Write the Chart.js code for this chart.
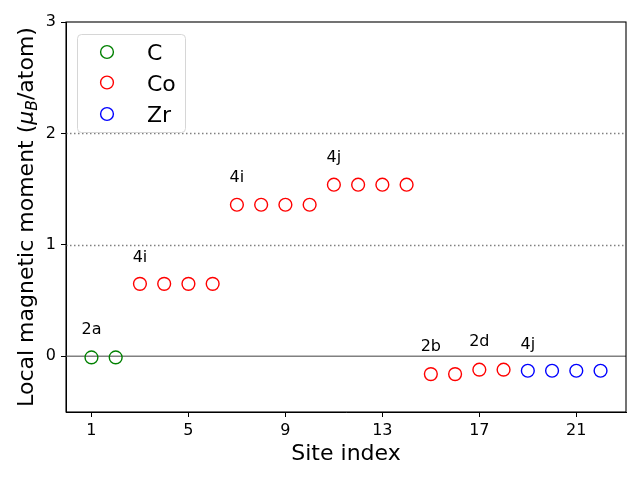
<!DOCTYPE html>
<html>
<head>
<meta charset="utf-8">
<script src="https://cdn.jsdelivr.net/npm/chart.js@4/dist/chart.umd.min.js"></script>
<style>
  html, body { margin: 0; padding: 0; background: #ffffff; }
  canvas { display: block; }
</style>
</head>
<body>
<canvas id="c" width="640" height="480"></canvas>
<script>
// ---- data ----
const sitesC = [1, 2];
const momentsC = [-0.01, -0.01];
const sitesCo = [3, 4, 5, 6, 7, 8, 9, 10, 11, 12, 13, 14, 15, 16, 17, 18];
const momentsCo = [0.65, 0.65, 0.65, 0.65, 1.36, 1.36, 1.36, 1.36, 1.54, 1.54, 1.54, 1.54, -0.16, -0.16, -0.12, -0.12];
const sitesZr = [19, 20, 21, 22];
const momentsZr = [-0.13, -0.13, -0.13, -0.13];

const wyckoffLabels = ['2a', '4i', '4i', '4j', '2b', '2d', '4j'];
const wyckoffX = [1, 3, 7, 11, 15, 17, 19];
const wyckoffY = [0.25, 0.90, 1.62, 1.80, 0.10, 0.15, 0.12];

const xTicks = [1, 5, 9, 13, 17, 21];
const yTicks = [0, 1, 2, 3];
const dottedLevels = [1, 2];
const solidLevels = [0];

const FONT = "'DejaVu Sans', 'Liberation Sans', sans-serif";

function pts(xs, ys) { return xs.map((x, i) => ({ x: x, y: ys[i] })); }

const series = [
  { label: 'C', xs: sitesC, ys: momentsC, color: '#008000' },
  { label: 'Co', xs: sitesCo, ys: momentsCo, color: '#ff0000' },
  { label: 'Zr', xs: sitesZr, ys: momentsZr, color: '#0000ff' }
];

const R = 6.4, BW = 1.4;

const decor = {
  id: 'decor',
  beforeDatasetsDraw(chart) {
    const ctx = chart.ctx, a = chart.chartArea, ys = chart.scales.y;
    ctx.save();
    ctx.strokeStyle = '#808080';
    ctx.lineWidth = 1.5;
    ctx.setLineDash([1.5, 2.5]);
    dottedLevels.forEach(v => {
      const py = Math.round(ys.getPixelForValue(v)) + 0.5;
      ctx.beginPath(); ctx.moveTo(a.left, py); ctx.lineTo(a.right, py); ctx.stroke();
    });
    ctx.setLineDash([]);
    solidLevels.forEach(v => {
      const py = ys.getPixelForValue(v);
      ctx.beginPath(); ctx.moveTo(a.left, py); ctx.lineTo(a.right, py); ctx.stroke();
    });
    ctx.restore();
  },
  afterDraw(chart) {
    const ctx = chart.ctx, a = chart.chartArea, xs = chart.scales.x, ys = chart.scales.y;
    ctx.save();
    // frame
    ctx.strokeStyle = '#000';
    ctx.lineWidth = 1.1;
    ctx.strokeRect(a.left, a.top, a.right - a.left, a.bottom - a.top);

    // annotations
    ctx.fillStyle = '#000';
    ctx.font = '16px ' + FONT;
    ctx.textAlign = 'center';
    ctx.textBaseline = 'alphabetic';
    wyckoffLabels.forEach((t, i) => {
      ctx.fillText(t, xs.getPixelForValue(wyckoffX[i]), ys.getPixelForValue(wyckoffY[i]) + 6);
    });

    // legend
    const lx = 77, ly = 34, lw = 108, lh = 98;
    ctx.beginPath();
    if (ctx.roundRect) ctx.roundRect(lx + 0.5, ly + 0.5, lw, lh, 4); else ctx.rect(lx + 0.5, ly + 0.5, lw, lh);
    ctx.fillStyle = 'rgba(255,255,255,0.8)';
    ctx.fill();
    ctx.strokeStyle = '#d6d6d6';
    ctx.lineWidth = 1;
    ctx.stroke();
    const rowY = [52, 82.5, 114];
    chart.data.datasets.forEach((ds, i) => {
      ctx.beginPath();
      ctx.arc(107, rowY[i], R, 0, Math.PI * 2);
      ctx.strokeStyle = ds.borderColor;
      ctx.lineWidth = BW;
      ctx.stroke();
      ctx.fillStyle = '#000';
      ctx.font = '22px ' + FONT;
      ctx.textAlign = 'left';
      ctx.textBaseline = 'alphabetic';
      ctx.fillText(ds.label, 147, rowY[i] + 8);
    });

    // x title
    ctx.fillStyle = '#000';
    ctx.font = '22px ' + FONT;
    ctx.textAlign = 'center';
    ctx.textBaseline = 'alphabetic';
    ctx.fillText('Site index', (a.left + a.right) / 2, 460);

    // y title with mathtext-like subscript
    const parts = [
      { t: 'Local magnetic moment (', f: '22px ' + FONT, dy: 0 },
      { t: 'μ', f: 'italic 22px ' + FONT, dy: 0 },
      { t: 'B', f: 'italic 15.5px ' + FONT, dy: 4 },
      { t: '/atom)', f: '22px ' + FONT, dy: 0 }
    ];
    let total = 0;
    parts.forEach(p => { ctx.font = p.f; p.w = ctx.measureText(p.t).width; total += p.w; });
    ctx.translate(33, (a.top + a.bottom) / 2);
    ctx.rotate(-Math.PI / 2);
    let cx = -total / 2;
    ctx.textAlign = 'left';
    parts.forEach(p => {
      ctx.font = p.f;
      ctx.fillText(p.t, cx, p.dy);
      cx += p.w;
    });
    ctx.restore();
  }
};

new Chart(document.getElementById('c'), {
  type: 'scatter',
  data: {
    datasets: series.map(s => ({
      label: s.label,
      data: pts(s.xs, s.ys),
      borderColor: s.color,
      backgroundColor: 'rgba(0,0,0,0)',
      pointStyle: 'circle',
      pointRadius: R,
      pointHoverRadius: R,
      borderWidth: BW
    }))
  },
  options: {
    responsive: false,
    animation: false,
    events: [],
    layout: { padding: { top: 22, right: 14, left: 0, bottom: 0 } },
    plugins: { legend: { display: false }, tooltip: { enabled: false } },
    scales: {
      x: {
        type: 'linear',
        min: -0.05, max: 23.05,
        afterBuildTicks: s => { s.ticks = xTicks.map(v => ({ value: v })); },
        afterFit: s => { s.height = 68; },
        grid: { drawOnChartArea: false, drawTicks: true, tickLength: 5, color: '#000', lineWidth: 1 },
        border: { display: true, color: '#000', width: 1 },
        ticks: { color: '#000', font: { family: FONT, size: 16 }, padding: 4, maxRotation: 0, autoSkip: false }
      },
      y: {
        type: 'linear',
        min: -0.5, max: 3,
        afterBuildTicks: s => { s.ticks = yTicks.map(v => ({ value: v })); },
        afterFit: s => { s.width = 66; },
        grid: { drawOnChartArea: false, drawTicks: true, tickLength: 5, color: '#000', lineWidth: 1 },
        border: { display: true, color: '#000', width: 1 },
        ticks: { color: '#000', font: { family: FONT, size: 16 }, padding: 5, autoSkip: false }
      }
    }
  },
  plugins: [decor]
});
</script>
</body>
</html>
